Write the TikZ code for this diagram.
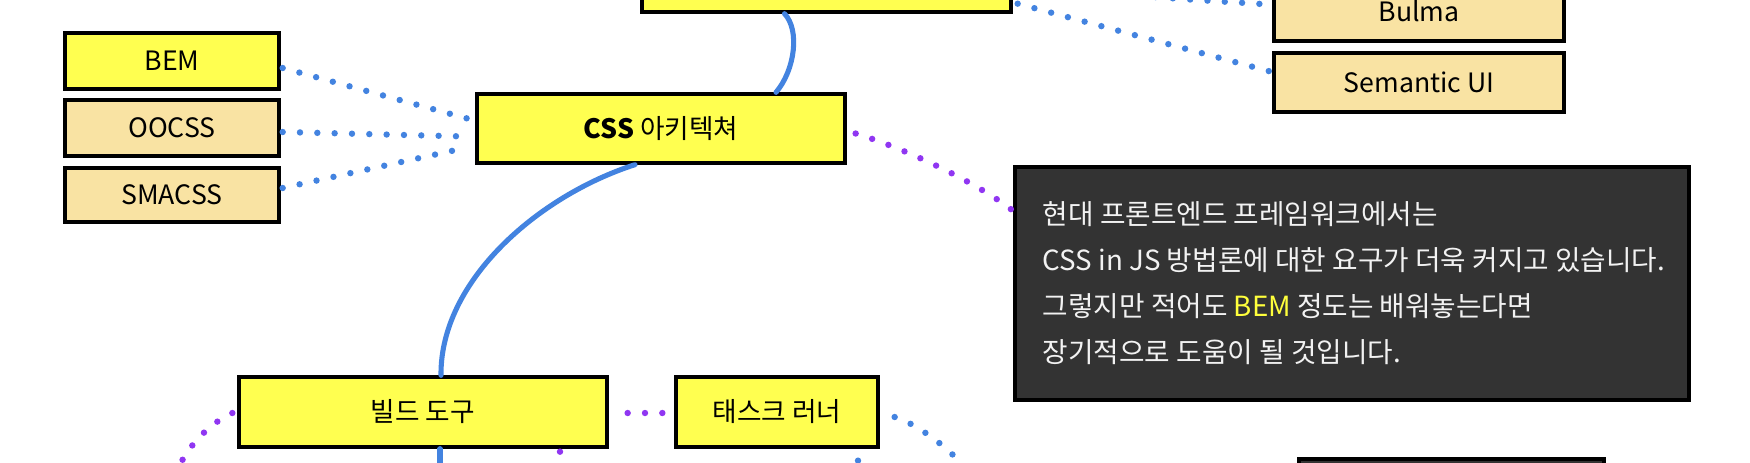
\documentclass[tikz,border=0pt]{standalone}
\usepackage{fontspec}
\setmainfont{Noto Sans CJK KR}
\usetikzlibrary{calc}

\definecolor{boxyellow}{HTML}{FFFF50}
\definecolor{boxtan}{HTML}{F9E3A3}
\definecolor{linkblue}{HTML}{4383E0}
\definecolor{linkpurple}{HTML}{9036F2}
\definecolor{notegray}{HTML}{333333}
\definecolor{notewhite}{HTML}{F2F2F2}
\definecolor{notemark}{HTML}{FFFF3C}

\tikzset{every picture/.style={line width=0.75pt}}
\tikzset{
  topic/.style={draw=black, line width=2.5pt, inner sep=0pt, font=\fontsize{20}{24}\selectfont},
  yellowtopic/.style={topic, fill=boxyellow},
  tantopic/.style={topic, fill=boxtan},
  notebox/.style={draw=black, line width=2.5pt, fill=notegray, inner sep=0pt},
  branch/.style={draw=linkblue, line width=3.8pt, line cap=round},
  bluedots/.style={draw=linkblue, line width=4.8pt, line cap=round, dash pattern=on 0pt off 13pt},
  purpledots/.style={bluedots, draw=linkpurple},
}

\begin{document}
\begin{tikzpicture}[x=0.75pt,y=0.75pt,yscale=-1,xscale=1]
\path[use as bounding box, clip] (0,0) rectangle (1750,462);
\fill[white] (0,0) rectangle (1750,462);

%Shape: Rectangle
\draw (826.5,-23) node [yellowtopic, minimum width=276.75pt, minimum height=52.5pt] (framework) {};
%Shape: Rectangle
\draw (1419,11.5) node [tantopic, minimum width=217.5pt, minimum height=44.25pt] (bulma) {Bulma};
%Shape: Rectangle
\draw (1419,82.5) node [tantopic, minimum width=217.5pt, minimum height=44.25pt] (semantic) {Semantic UI};

%Shape: Rectangle
\draw (172,61) node [yellowtopic, minimum width=160.5pt, minimum height=42pt] (bem) {BEM};
%Shape: Rectangle
\draw (172,128) node [tantopic, minimum width=160.5pt, minimum height=42pt] (oocss) {OOCSS};
%Shape: Rectangle
\draw (172,195) node [tantopic, minimum width=160.5pt, minimum height=40.5pt] (smacss) {SMACSS};

%Shape: Rectangle
\draw (661,128.5) node [yellowtopic, minimum width=276pt, minimum height=51.75pt] (arch) {\textbf{CSS} 아키텍쳐};

%Shape: Rectangle
\draw (1352,283.5) node [notebox, minimum width=505.5pt, minimum height=174.75pt] (note) {};
% Text Node
\draw ($(note.west)+(29,0)$) node [anchor=west, align=left, inner sep=0pt, text=notewhite, font=\fontsize{20.8}{34.5}\selectfont] (notelines) {현대 프론트엔드 프레임워크에서는\\
CSS in JS 방법론에 대한 요구가 더욱 커지고 있습니다.\\
그렇지만 적어도 \textcolor{notemark}{BEM} 정도는 배워놓는다면\\
장기적으로 도움이 될 것입니다.};

%Shape: Rectangle
\draw (423,412) node [yellowtopic, minimum width=276pt, minimum height=52.5pt] (build) {빌드 도구};
%Shape: Rectangle
\draw (777,412) node [yellowtopic, minimum width=151.5pt, minimum height=52.5pt] (runner) {태스크 러너};
%Shape: Rectangle
\draw (1451.5,519) node [notebox, minimum width=228.75pt, minimum height=90pt] (nextnote) {};

\coordinate (buildout) at (440,480);
\coordinate (buildleft) at (174,478);
\coordinate (buildbelow) at (575,480);
\coordinate (runnerright) at (975,480);
\coordinate (runnerbelow) at (862,490);

%Curve Lines
\draw [branch] ($(framework.south)+(-42,0)$) .. controls (800,30) and (795,70) .. ($(arch.north)+(115,0)$);
%Curve Lines
\draw [branch] ($(arch.south)+(-26,0)$) .. controls (540,195) and (440,280) .. ($(build.north)+(18,0)$);
%Straight Lines
\draw [branch] ($(build.south)+(17,0)$) -- (buildout);

%Straight Lines
\draw [bluedots] ($(bem.east)+(2,7)$) -- ($(arch.west)+(-8,-10)$);
%Straight Lines
\draw [bluedots] ($(oocss.east)+(2,4)$) -- ($(arch.west)+(-8,8)$);
%Straight Lines
\draw [bluedots] ($(smacss.east)+(2,-7)$) -- ($(arch.west)+(-8,19)$);

%Curve Lines
\draw [purpledots] ($(arch.east)+(9,5)$) .. controls (910,150) and (980,185) .. ($(note.west)+(-2,-74)$);

%Curve Lines
\draw [purpledots] ($(build.west)+(-5,1)$) .. controls (218,419) and (188,440) .. (buildleft);
%Straight Lines
\draw [purpledots] ($(build.east)+(19,1)$) -- ($(runner.west)+(-10,1)$);
%Straight Lines
\draw [purpledots] ($(build.south)+(137,3)$) -- (buildbelow);

%Curve Lines
\draw [bluedots] ($(runner.east)+(15,5)$) .. controls (910,421) and (950,445) .. (runnerright);
%Straight Lines
\draw [bluedots] ($(runner.south)+(81,12)$) -- (runnerbelow);

%Straight Lines
\draw [bluedots] ($(framework.south east)+(5,-10)$) -- ($(semantic.west)+(-2,-11)$);
%Curve Lines
\draw [bluedots] ($(framework.east)+(5,6)$) .. controls (1100,-5) and (1200,0) .. ($(bulma.west)+(-3,-7)$);

\end{tikzpicture}
\end{document}
